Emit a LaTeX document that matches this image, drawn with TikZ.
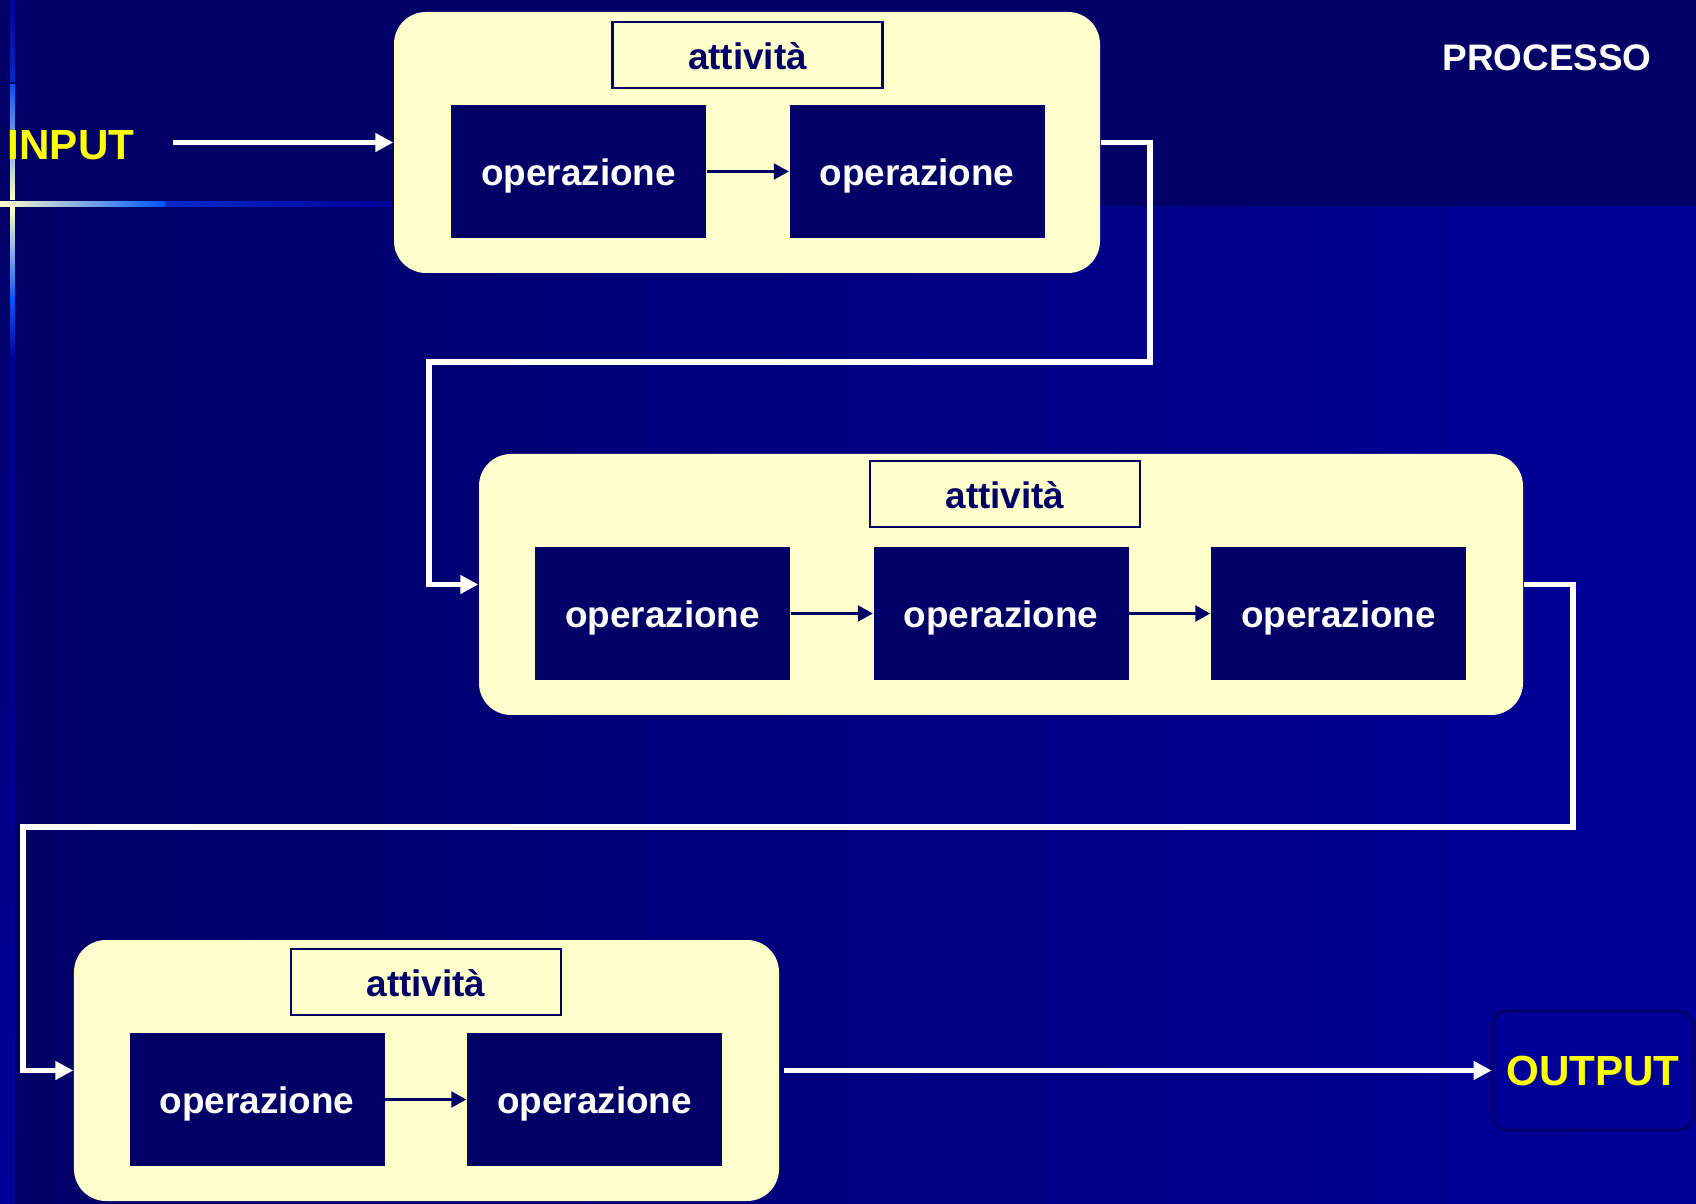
\documentclass[tikz,border=0pt]{standalone}
\usepackage{fontspec}
\setmainfont{Liberation Sans}
\usepackage{xcolor}
\usetikzlibrary{arrows.meta}

\definecolor{navy}{HTML}{000066}
\definecolor{royal}{HTML}{000099}
\definecolor{cream}{HTML}{FFFFCC}
\definecolor{sky}{HTML}{0055FF}
\definecolor{signal}{HTML}{FFFF00}

\begin{document}
\begin{tikzpicture}[
        activity/.style={fill=cream, rounded corners=0.32cm, minimum height=2.61cm, inner sep=0pt},
        titlebox/.style={draw=navy, line width=0.6pt, fill=cream, text=navy, minimum width=2.7cm, minimum height=0.66cm, inner sep=0pt, text height=0.84em, text depth=0em, font=\bfseries\fontsize{10.5}{12}\selectfont},
        opbox/.style={fill=navy, text=white, minimum width=2.55cm, minimum height=1.33cm, inner sep=0pt, text height=0.92em, text depth=0.14em, font=\bfseries\fontsize{10.5}{12}\selectfont},
        flow/.style={draw=white, line width=1.7pt, -{Triangle[length=0.18cm,width=0.18cm]}},
        link/.style={draw=navy, line width=0.65pt, -{Triangle[length=0.15cm,width=0.16cm]}}
    ]
            % background
            \useasboundingbox (0,0) rectangle (16.96,-12.04);
            \shade[left color=navy, right color=royal] (0,0) rectangle (16.96,-12.04);
            \fill[navy] (0,0) rectangle (16.96,-2.06);
            \shade[top color=navy, bottom color=royal] (0,-2.07) rectangle (0.10,-12.04);
            \begin{scope}
                \shade[left color=cream, right color=sky] (0,-2.02) rectangle (1.65,-2.07);
                \shade[left color=sky!50!royal, right color=royal] (1.65,-2.02) rectangle (3.92,-2.07);
                \shade[top color=royal, bottom color=sky!50!royal] (0.10,0) rectangle (0.15,-0.82);
                \shade[top color=sky, bottom color=cream] (0.10,-0.85) rectangle (0.15,-2.0);
                \shade[top color=cream, bottom color=sky] (0.10,-2.07) rectangle (0.15,-3.0);
                \shade[top color=sky, bottom color=royal] (0.10,-3.0) rectangle (0.15,-3.6);
                \fill[royal] (0.10,-3.6) rectangle (0.15,-12.04);
            \end{scope}
            \node (processo) at (15.47,-0.58) [text=white, font=\bfseries\fontsize{10.5}{12}\selectfont] {PROCESSO};
            \node (input) at (0.71,-1.45) [text=signal, font=\bfseries\fontsize{12}{14}\selectfont] {INPUT};
            \coordinate (in0) at (1.73,-1.425);
            % first activity
            \node (act1) at (7.47,-1.425) [activity, minimum width=7.06cm] {};
            \node (tit1) at (7.475,-0.55) [titlebox] {attività};
            \node (op11) at (5.785,-1.715) [opbox] {operazione};
            \node (op12) at (9.17,-1.715) [opbox] {operazione};
            \draw[link] (op11) -- (op12);
            % second activity
            \node (act2) at (10.01,-5.845) [activity, minimum width=10.44cm] {};
            \node (tit2) at (10.05,-4.94) [titlebox] {attività};
            \node (op21) at (6.625,-6.135) [opbox] {operazione};
            \node (op22) at (10.01,-6.135) [opbox] {operazione};
            \node (op23) at (13.385,-6.135) [opbox] {operazione};
            \draw[link] (op21) -- (op22);
            \draw[link] (op22) -- (op23);
            % third activity
            \node (act3) at (4.265,-10.705) [activity, minimum width=7.05cm] {};
            \node (tit3) at (4.26,-9.82) [titlebox] {attività};
            \node (op31) at (2.57,-10.995) [opbox] {operazione};
            \node (op32) at (5.945,-10.995) [opbox] {operazione};
            \draw[link] (op31) -- (op32);
            \node (out) at (15.93,-10.705) [draw=navy, line width=0.8pt, fill=royal, rounded corners=0.15cm, minimum width=2.0cm, minimum height=1.19cm, text=signal, font=\bfseries\fontsize{12}{14}\selectfont] {OUTPUT};
            % connectors
            \coordinate (bend1) at (11.50,-3.62);
            \coordinate (bend2) at (4.29,-3.62);
            \coordinate (bend3) at (15.73,-8.27);
            \coordinate (bend4) at (0.23,-8.27);
            \draw[flow] (in0) -- (act1.west);
            \draw[flow] (act1.east) -| (bend1) -- (bend2) |- (act2.west);
            \draw[flow] (act2.east) -| (bend3) -- (bend4) |- (act3.west);
            \draw[flow, shorten <=0.04cm] (act3.east) -- (out.west);
\end{tikzpicture}
\end{document}
